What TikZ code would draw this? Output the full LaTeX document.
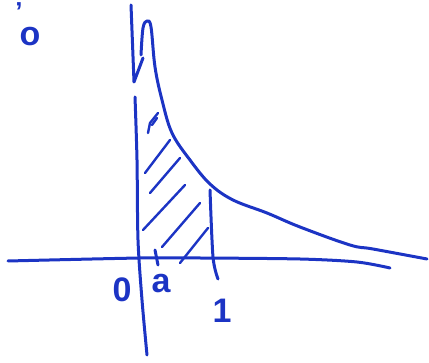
\documentclass[tikz,border=0pt]{standalone}
\usepackage{fontspec}
\setmainfont{Liberation Sans}
\definecolor{ink}{RGB}{28,52,196}
\begin{document}
\begin{tikzpicture}[x=1pt,y=-1pt,
  pen/.style={draw=ink,line width=3pt,line cap=round,line join=round},
  hatch/.style={draw=ink,line width=2.4pt,line cap=round},
  lbl/.style={text=ink,inner sep=0pt,font=\fontsize{34}{34}\selectfont\bfseries}]
\useasboundingbox (0,0) rectangle (429,363);
% x-axis
\draw[pen] plot[smooth] coordinates {(8,261) (140,258) (200,258) (300,259) (357,262) (390,268)};
% y-axis (two strokes)
\draw[pen] (131,5) -- (134,82) -- (143,58);
\draw[pen] plot[smooth] coordinates {(135,97) (137,160) (138,240) (142,300) (147,355)};
% curve
\draw[pen] plot[smooth, tension=0.6] coordinates {(141,55) (143,28) (147,21) (151,27) (155,67) (162,100) (172,133) (190,160) (210,184) (233,200) (267,213) (300,227) (350,245) (373,249) (427,259)};
% vertical at x=1
\draw[pen] plot[smooth] coordinates {(210,190) (213,257) (218,279)};
% tick at a
\draw[pen] (155,250) -- (158,265);
% hatching
\draw[hatch] (148,133) -- (150,123) -- (158,113);
\draw[hatch] (152,125) -- (157,118);
\draw[hatch] (145,173) -- (170,140);
\draw[hatch] (150,193) -- (180,158);
\draw[hatch] (143,230) -- (185,185);
\draw[hatch] (162,247) -- (200,203);
\draw[hatch] (180,263) -- (208,228);
% labels
\node[lbl] (zero) at (122,290) {0};
\node[lbl] (a) at (161,284) {a};
\node[lbl] (one) at (222,311) {1};
\node[lbl] (topo) at (30,37) {o};
\node[lbl,font=\fontsize{26}{26}\selectfont\bfseries,anchor=north] (tick) at (19,2) {'};
\end{tikzpicture}
\end{document}
